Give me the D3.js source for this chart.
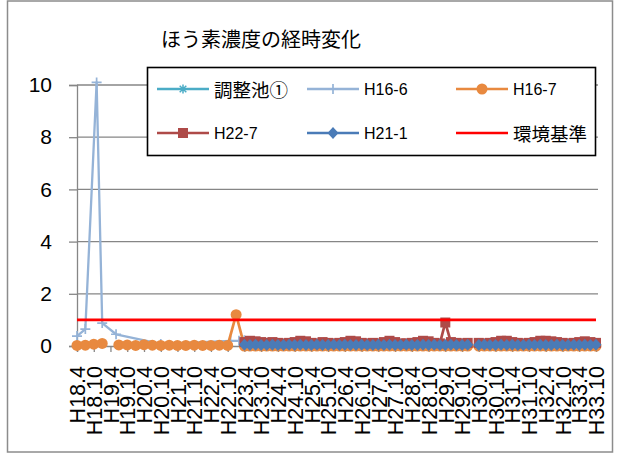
<!DOCTYPE html>
<html><head><meta charset="utf-8">
<script src="https://cdn.jsdelivr.net/npm/d3@7/dist/d3.min.js"></script>
<style>body{margin:0;background:#fff}svg{display:block}</style>
</head><body>
<svg id="c" width="620" height="457"></svg>
<script>
// ---------- data ----------
const chartTitle = "ほう素濃度の経時変化";
const seriesNames = ["調整池①", "H16-6", "H16-7", "H22-7", "H21-1", "環境基準"];
const yTicks = [0, 2, 4, 6, 8, 10];
const xTickLabels = ["H18.4","H18.10","H19.4","H19.10","H20.4","H20.10","H21.4","H21.10",
  "H22.4","H22.10","H23.4","H23.10","H24.4","H24.10","H25.4","H25.10","H26.4","H26.10",
  "H27.4","H27.10","H28.4","H28.10","H29.4","H29.10","H30.4","H30.10","H31.4","H31.10",
  "H32.4","H32.10","H33.4","H33.10"];
const standardValue = 1.0;
const axisStart = "2006-04", axisEnd = "2021-10";

// H16-6 (sparse early data)
const h16_6Dates  = ["2006-04","2006-07","2006-11","2007-01","2007-06","2008-10","2010-11","2011-02","2011-04"];
const h16_6Values = [0.38, 0.65, 10.1, 0.88, 0.45, 0.08, 0.2, 0.2, 0.22];

// H16-7 early quarterly data
const h16_7EarlyDates  = ["2006-04","2006-07","2006-10","2007-01","2007-04","2007-07","2007-10","2008-01",
  "2008-04","2008-07","2008-10","2009-01","2009-04","2009-07","2009-10","2010-01","2010-04","2010-07","2010-10","2011-01"];
const h16_7EarlyValues = [0.02, 0.03, 0.07, 0.1, null, 0.04, 0.04, 0.02, 0.05, 0.03, 0.02, 0.03, 0.02, 0.02, 0.03, 0.02, 0.02, 0.03, 0.02, 1.2];

// bimonthly dates from H23.4 onward
const lateDates = [
  "2011-04","2011-06","2011-08","2011-10","2011-12",
  "2012-02","2012-04","2012-06","2012-08","2012-10","2012-12",
  "2013-02","2013-04","2013-06","2013-08","2013-10","2013-12",
  "2014-02","2014-04","2014-06","2014-08","2014-10","2014-12",
  "2015-02","2015-04","2015-06","2015-08","2015-10","2015-12",
  "2016-02","2016-04","2016-06","2016-08","2016-10","2016-12",
  "2017-02","2017-04","2017-06","2017-08","2017-10","2017-12",
  "2018-02","2018-04","2018-06","2018-08","2018-10","2018-12",
  "2019-02","2019-04","2019-06","2019-08","2019-10","2019-12",
  "2020-02","2020-04","2020-06","2020-08","2020-10","2020-12",
  "2021-02","2021-04","2021-06","2021-08","2021-10"];
const choseiValues = [
  0.02,0.02,0.02,0.02,0.02, 0.02,0.02,0.02,0.02,0.02,0.02, 0.02,0.02,0.02,0.02,0.02,0.02,
  0.02,0.02,0.02,0.02,0.02,0.02, 0.02,0.02,0.02,0.02,0.02,0.02, 0.02,0.02,0.02,0.02,0.02,0.02,
  0.02,0.02,0.02,0.02,0.02,0.02, null,0.02,0.02,0.02,0.02,0.02, 0.02,0.02,0.02,0.02,0.02,0.02,
  0.02,0.02,0.02,0.02,0.02,0.02, 0.02,0.02,0.02,0.02,0.02];
const h16_7LateValues = [
  0,0,0,0,0, 0,0,0,0,0,0, 0,0,0,0,0,0, 0,0,0,0,0,0, 0,0,0,0,0,0, 0,0,0,0,0,0,
  0,0,0,0,0,0, null,0,0,0,0,0, 0,0,0,0,0,0, 0,0,0,0,0,0, 0,0,0,0,0];
const h22_7Values = [
  0.15,0.2,0.18,0.15,0.12,
  0.15,0.12,0.1,0.12,0.15,0.2,
  0.18,0.12,0.1,0.15,0.12,0.1,
  0.12,0.15,0.2,0.18,0.12,0.1,
  0.12,0.1,0.15,0.2,0.15,0.1,
  0.1,0.12,0.15,0.2,0.18,0.12,
  0.1,0.9,0.15,0.12,0.1,0.12,
  null,0.12,0.1,0.12,0.15,0.2,
  0.2,0.15,0.12,0.1,0.12,0.15,
  0.2,0.2,0.18,0.15,0.12,0.1,
  0.12,0.15,0.18,0.15,0.12];
const h21_1Values = [
  0.05,0.04,0.05,0.04,0.04,
  0.05,0.04,0.04,0.05,0.04,0.05,
  0.04,0.04,0.05,0.04,0.04,0.05,
  0.04,0.05,0.04,0.04,0.05,0.04,
  0.04,0.05,0.04,0.05,0.04,0.04,
  0.05,0.04,0.04,0.05,0.04,0.05,
  0.04,0.04,0.05,0.04,0.04,0.05,
  null,0.04,0.05,0.04,0.04,0.05,
  0.04,0.05,0.04,0.04,0.05,0.04,
  0.05,0.04,0.04,0.05,0.04,0.04,
  0.05,0.04,0.05,0.04,0.05];

// ---------- styles ----------
const colors = {"調整池①":"#4BACC6","H16-6":"#95B3D7","H16-7":"#E8893F","H22-7":"#AE4A48","H21-1":"#4A7BB7","環境基準":"#FF0000"};
const markers = {"調整池①":"star","H16-6":"plus","H16-7":"circle","H22-7":"square","H21-1":"diamond","環境基準":"none"};
const latinFont = "'Liberation Sans', Arial, 'Noto Sans CJK JP', sans-serif";
const cjkFont = "'Noto Sans CJK JP', 'Liberation Sans', sans-serif";

// ---------- build ----------
const parse = d3.timeParse("%Y-%m");
const wareki = s => { const [h, m] = s.slice(1).split("."); return new Date(1988 + (+h), (+m) - 1, 1); };
const zip = (ds, vs) => ds.map((d, i) => ({date: parse(d), value: vs[i]}));

const seriesData = {
  "調整池①": zip(lateDates, choseiValues),
  "H16-6": zip(h16_6Dates, h16_6Values),
  "H16-7": zip(h16_7EarlyDates, h16_7EarlyValues).concat(zip(lateDates, h16_7LateValues)),
  "H22-7": zip(lateDates, h22_7Values),
  "H21-1": zip(lateDates, h21_1Values)
};

const L = 77, R = 596, T = 85, B = 346;
const x = d3.scaleTime().domain([parse(axisStart), parse(axisEnd)]).range([L, R]);
const y = d3.scaleLinear().domain([0, 10]).range([B, T]);

const svg = d3.select("#c");
svg.append("rect").attr("x", 7.5).attr("y", 1).attr("width", 605).attr("height", 451)
  .attr("fill", "#fff").attr("stroke", "#8c8c8c").attr("stroke-width", 1.5);

svg.append("text").attr("x", 261).attr("y", 38).attr("text-anchor", "middle")
  .attr("dominant-baseline", "central").attr("font-family", cjkFont).attr("font-size", 20)
  .attr("fill", "#000").text(chartTitle);

// gridlines
svg.append("g").selectAll("line").data(yTicks.filter(v => v > 0)).join("line")
  .attr("x1", L).attr("x2", R + 2).attr("y1", d => y(d)).attr("y2", d => y(d))
  .attr("stroke", "#868686").attr("stroke-width", 1.3);

// y axis
const yAxis = svg.append("g").attr("transform", `translate(${L},0)`)
  .call(d3.axisLeft(y).tickValues(yTicks).tickSize(8).tickPadding(17).tickFormat(d3.format("d")));
yAxis.select(".domain").attr("stroke", "#868686").attr("stroke-width", 1.3);
yAxis.selectAll(".tick line").attr("stroke", "#868686").attr("stroke-width", 1.3);
yAxis.selectAll("text").attr("font-family", latinFont).attr("font-size", 21).attr("fill", "#000");

// x axis
const xAxis = svg.append("g").attr("transform", `translate(0,${B})`)
  .call(d3.axisBottom(x).tickValues(xTickLabels.map(wareki)).tickSize(6)
    .tickFormat((d, i) => xTickLabels[i]));
xAxis.select(".domain").attr("stroke", "#868686").attr("stroke-width", 1.3);
xAxis.selectAll(".tick line").attr("stroke", "#868686").attr("stroke-width", 1.3);
xAxis.selectAll("text").attr("font-family", latinFont).attr("font-size", 21.5).attr("fill", "#000")
  .attr("text-anchor", "end").attr("dy", "0.36em")
  .attr("transform", "translate(0,20) rotate(-90)").attr("x", 0).attr("y", 0);

// marker drawing
function drawMarker(g, type, color, cx, cy) {
  if (type === "circle") {
    g.append("circle").attr("cx", cx).attr("cy", cy).attr("r", 5.5).attr("fill", color);
  } else if (type === "square") {
    g.append("rect").attr("x", cx - 5).attr("y", cy - 5).attr("width", 10).attr("height", 10).attr("fill", color);
  } else if (type === "diamond") {
    g.append("path").attr("d", `M${cx},${cy-6}L${cx+5.5},${cy}L${cx},${cy+6}L${cx-5.5},${cy}Z`).attr("fill", color);
  } else if (type === "plus") {
    g.append("path").attr("d", `M${cx-5},${cy}H${cx+5}M${cx},${cy-5}V${cy+5}`)
      .attr("stroke", color).attr("stroke-width", 1.7).attr("fill", "none");
  } else if (type === "star") {
    g.append("path").attr("d", `M${cx-4.5},${cy}H${cx+4.5}M${cx},${cy-4.5}V${cy+4.5}M${cx-3.3},${cy-3.3}L${cx+3.3},${cy+3.3}M${cx-3.3},${cy+3.3}L${cx+3.3},${cy-3.3}`)
      .attr("stroke", color).attr("stroke-width", 1.5).attr("fill", "none");
  }
}

const line = d3.line().defined(d => d.value !== null).x(d => x(d.date)).y(d => y(d.value));
const plot = svg.append("g");
["調整池①", "H16-6", "H16-7", "H22-7", "H21-1"].forEach(name => {
  const data = seriesData[name];
  const g = plot.append("g");
  g.append("path").datum(data).attr("d", line).attr("fill", "none")
    .attr("stroke", colors[name]).attr("stroke-width", name === "H16-6" ? 2.3 : 2.7)
    .attr("stroke-linejoin", "round");
  data.filter(d => d.value !== null).forEach(d => drawMarker(g, markers[name], colors[name], x(d.date), y(d.value)));
});

// 環境基準
plot.append("line").attr("x1", L).attr("x2", R).attr("y1", y(standardValue)).attr("y2", y(standardValue))
  .attr("stroke", colors["環境基準"]).attr("stroke-width", 2.8);

// legend
const lg = svg.append("g");
lg.append("rect").attr("x", 147.5).attr("y", 67.5).attr("width", 448).attr("height", 88)
  .attr("fill", "#fff").attr("stroke", "#000").attr("stroke-width", 1.6);
const colX = [157, 307, 456], rowY = [89, 133];
seriesNames.forEach((name, i) => {
  const cx = colX[i % 3], cy = rowY[Math.floor(i / 3)];
  lg.append("line").attr("x1", cx).attr("x2", cx + 52).attr("y1", cy).attr("y2", cy)
    .attr("stroke", colors[name]).attr("stroke-width", 2.7);
  drawMarker(lg, markers[name], colors[name], cx + 26, cy);
  const isCjk = /[^\x00-\x7F]/.test(name);
  lg.append("text").attr("x", cx + 57).attr("y", cy).attr("dominant-baseline", "central")
    .attr("font-family", isCjk ? cjkFont : latinFont).attr("font-size", isCjk ? 18.5 : 16)
    .attr("fill", "#000").text(name);
});
</script>
</body></html>
